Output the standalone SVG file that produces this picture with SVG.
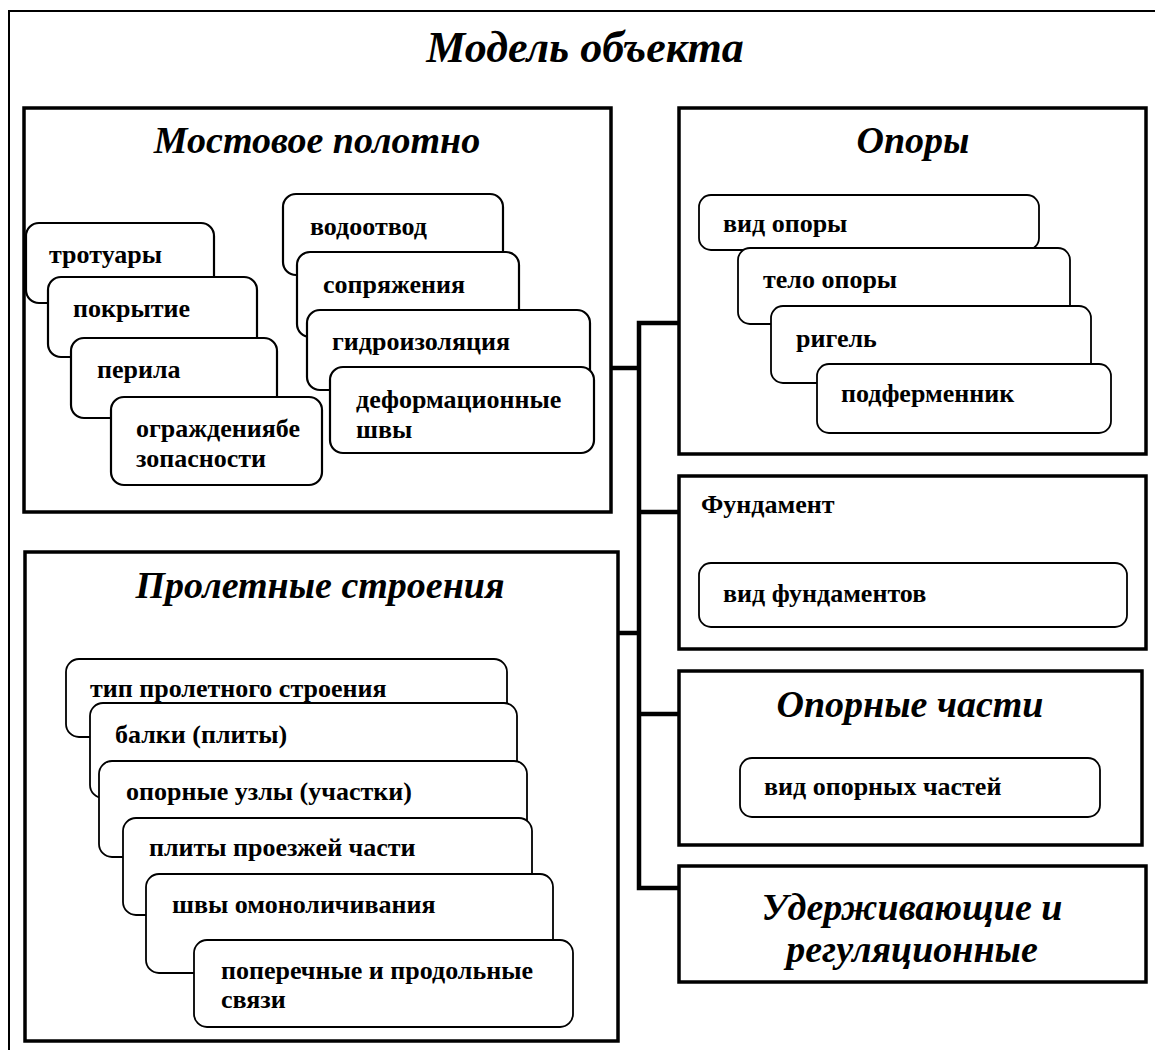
<svg xmlns="http://www.w3.org/2000/svg" width="1155" height="1050" viewBox="0 0 1155 1050">
<style>
.frame{fill:none;stroke:#000;stroke-width:2}
.main{fill:#fff;stroke:#000;stroke-width:3.5}
.sub{fill:#fff;stroke:#000;stroke-width:2.2}
.sub2{fill:#fff;stroke:#000;stroke-width:1.8}
.conn{fill:none;stroke:#000;stroke-width:4.5;stroke-linejoin:miter}
.t{font-family:"Liberation Serif","Times New Roman",serif;font-weight:bold;font-size:26px;fill:#000}
.h{font-family:"Liberation Serif","Times New Roman",serif;font-weight:bold;font-style:italic;font-size:38px;fill:#000;text-anchor:middle}
.top{font-family:"Liberation Serif","Times New Roman",serif;font-weight:bold;font-style:italic;font-size:44px;fill:#000;text-anchor:middle}
</style>
<rect width="1155" height="1050" fill="#fff"/>
<g id="outer">
<path class="frame" d="M9,1050 V11 H1160"/>
<text class="top" x="585" y="62">Модель объекта</text>
</g>
<g id="connectors">
<path class="conn" d="M611,368 H639"/>
<path class="conn" d="M618,633 H639"/>
<path class="conn" d="M679,323 H639 V888 H679"/>
<path class="conn" d="M639,512 H679"/>
<path class="conn" d="M639,714 H679"/>
</g>
<g id="mostovoe">
<rect class="main" x="24" y="108" width="587" height="404"/>
<text class="h" x="317" y="153">Мостовое полотно</text>
<g id="trotuary"><rect class="sub" x="26" y="223" width="188" height="80" rx="13"/><text class="t" x="49" y="263">тротуары</text></g>
<g id="pokrytie"><rect class="sub" x="48" y="277" width="209" height="80" rx="13"/><text class="t" x="73" y="317">покрытие</text></g>
<g id="perila"><rect class="sub" x="71" y="338" width="206" height="80" rx="13"/><text class="t" x="97" y="378">перила</text></g>
<g id="ograzhdenie"><rect class="sub" x="111" y="397" width="211" height="88" rx="13"/><text class="t" x="136" y="437">ограждениябе</text><text class="t" x="136" y="467">зопасности</text></g>
<g id="vodootvod"><rect class="sub" x="283" y="194" width="220" height="81" rx="13"/><text class="t" x="310" y="235">водоотвод</text></g>
<g id="sopryazheniya"><rect class="sub" x="297" y="252" width="222" height="85" rx="13"/><text class="t" x="323" y="293">сопряжения</text></g>
<g id="gidroizolyaciya"><rect class="sub" x="307" y="310" width="283" height="80" rx="13"/><text class="t" x="332" y="350">гидроизоляция</text></g>
<g id="deformacionnye"><rect class="sub" x="330" y="367" width="264" height="86" rx="13"/><text class="t" x="356" y="408">деформационные</text><text class="t" x="356" y="438">швы</text></g>
</g>
<g id="opory">
<rect class="main" x="679" y="108" width="467" height="346"/>
<text class="h" x="913" y="153">Опоры</text>
<g id="vid-opory"><rect class="sub2" x="699" y="195" width="340" height="55" rx="12"/><text class="t" x="723" y="232">вид опоры</text></g>
<g id="telo-opory"><rect class="sub2" x="738" y="248" width="332" height="76" rx="12"/><text class="t" x="763" y="288">тело опоры</text></g>
<g id="rigel"><rect class="sub2" x="771" y="306" width="320" height="77" rx="12"/><text class="t" x="796" y="347">ригель</text></g>
<g id="podfermennik"><rect class="sub2" x="817" y="364" width="294" height="69" rx="12"/><text class="t" x="841" y="402">подферменник</text></g>
</g>
<g id="fundament">
<rect class="main" x="679" y="476" width="467" height="173"/>
<text class="t" x="701" y="513">Фундамент</text>
<g id="vid-fundamentov"><rect class="sub2" x="699" y="563" width="428" height="64" rx="12"/><text class="t" x="723" y="602">вид фундаментов</text></g>
</g>
<g id="opornye-chasti">
<rect class="main" x="679" y="671" width="463" height="174"/>
<text class="h" x="910" y="717">Опорные части</text>
<g id="vid-opornyh"><rect class="sub2" x="740" y="758" width="360" height="59" rx="12"/><text class="t" x="764" y="795">вид опорных частей</text></g>
</g>
<g id="uderzhivayuschie">
<rect class="main" x="679" y="866" width="467" height="116"/>
<text class="h" x="912" y="920">Удерживающие и</text>
<text class="h" x="912" y="962">регуляционные</text>
</g>
<g id="proletnye">
<rect class="main" x="25" y="552" width="593" height="489"/>
<text class="h" x="320" y="598">Пролетные строения</text>
<g id="tip"><rect class="sub2" x="66" y="659" width="441" height="78" rx="13"/><text class="t" x="90" y="697">тип пролетного строения</text></g>
<g id="balki"><rect class="sub2" x="90" y="703" width="427" height="95" rx="13"/><text class="t" x="115" y="743">балки (плиты)</text></g>
<g id="opornye-uzly"><rect class="sub2" x="99" y="761" width="428" height="96" rx="13"/><text class="t" x="126" y="800">опорные узлы (участки)</text></g>
<g id="plity"><rect class="sub2" x="123" y="818" width="409" height="97" rx="13"/><text class="t" x="149" y="856">плиты проезжей части</text></g>
<g id="shvy"><rect class="sub2" x="146" y="874" width="407" height="99" rx="13"/><text class="t" x="172" y="913">швы омоноличивания</text></g>
<g id="svyazi"><rect class="sub2" x="194" y="940" width="379" height="87" rx="13"/><text class="t" x="221" y="979">поперечные и продольные</text><text class="t" x="221" y="1008">связи</text></g>
</g>
</svg>
